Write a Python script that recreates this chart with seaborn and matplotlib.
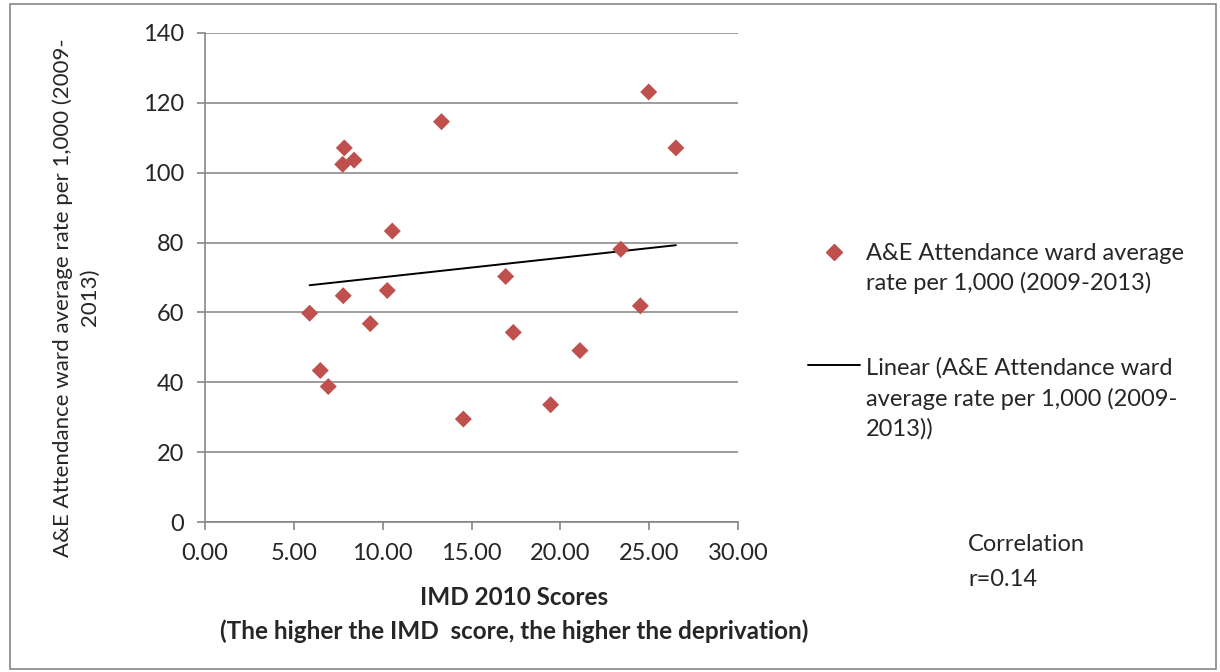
import matplotlib
matplotlib.use("Agg")
import matplotlib.pyplot as plt
import seaborn as sns
import pandas as pd
from matplotlib.lines import Line2D
from matplotlib.patches import Rectangle

# IMD 2010 score per ward and A&E attendance rate per 1,000
imd_scores = [13.31, 7.84, 7.75, 8.39, 10.54, 7.78, 10.26, 5.89, 9.30, 6.49,
              6.94, 24.97, 26.50, 23.40, 16.92, 24.50, 17.35, 21.10, 19.45, 14.54]
ae_rates = [114.6, 107.1, 102.4, 103.6, 83.3, 64.8, 66.3, 59.8, 56.8, 43.4,
            38.8, 123.1, 107.1, 78.1, 70.3, 61.9, 54.3, 49.1, 33.6, 29.5]
x_ticks = [0, 5, 10, 15, 20, 25, 30]
y_ticks = [0, 20, 40, 60, 80, 100, 120, 140]

df = pd.DataFrame({'imd': imd_scores, 'rate': ae_rates})

sns.set_style('white')
plt.rcParams['font.family'] = ['Lato', 'DejaVu Sans']

red = '#C0504D'
fig = plt.figure(figsize=(12.2, 6.72), dpi=100)
ax = fig.add_axes([0.168, 0.223, 0.437, 0.728])

# linea de tendencia y puntos
sns.regplot(data=df, x='imd', y='rate', scatter=False, ci=None, ax=ax,
            line_kws={'color': 'black', 'lw': 1.4})
sns.scatterplot(data=df, x='imd', y='rate', marker='D', s=75, color=red,
                edgecolor='none', ax=ax, zorder=3)

ax.set_xlim(0, 30)
ax.set_ylim(0, 140)
ax.set_xticks(x_ticks)
ax.set_xticklabels([f'{v:.2f}' for v in x_ticks])
ax.set_yticks(y_ticks)
ax.tick_params(labelsize=17, length=6, width=1.2, color='#868686', direction='out',
               bottom=True, left=True, pad=9)
ax.grid(axis='y', color='#8c8c8c', lw=1.2)
ax.set_axisbelow(True)
for s in ['top', 'right']:
    ax.spines[s].set_visible(False)
for s in ['left', 'bottom']:
    ax.spines[s].set_color('#868686')
    ax.spines[s].set_linewidth(1.2)

ax.set_xlabel('IMD 2010 Scores\n(The higher the IMD  score, the higher the deprivation)',
              fontsize=17.5, fontweight='bold', linespacing=1.55)
ax.xaxis.set_label_coords(0.58, -0.13)
ax.set_ylabel('A&E Attendance ward average rate per 1,000 (2009-\n2013)',
              fontsize=16, linespacing=1.42)
ax.yaxis.set_label_coords(-0.197, 0.459)

# leyenda hecha a mano para alinear con la primera linea
fig.add_artist(Line2D([0.6836], [0.625], marker='D', ls='none', color=red,
                      markersize=8, transform=fig.transFigure))
fig.text(0.7098, 0.6004, 'A&E Attendance ward average\nrate per 1,000 (2009-2013)',
         fontsize=17, va='center', linespacing=1.48)
fig.add_artist(Line2D([0.6623, 0.7049], [0.4568, 0.4568], color='black', lw=1.4,
                      transform=fig.transFigure))
fig.text(0.7098, 0.407, 'Linear (A&E Attendance ward\naverage rate per 1,000 (2009-\n2013))',
         fontsize=17, va='center', linespacing=1.48)

fig.text(0.7934, 0.189, 'Correlation', fontsize=17, va='center')
fig.text(0.7934, 0.137, 'r=0.14', fontsize=17, va='center')

fig.patches.append(Rectangle((0.008, 0.005), 0.989, 0.989, transform=fig.transFigure,
                             fill=False, edgecolor='#868686', lw=1.2))

fig.savefig('out.png', dpi=100)
